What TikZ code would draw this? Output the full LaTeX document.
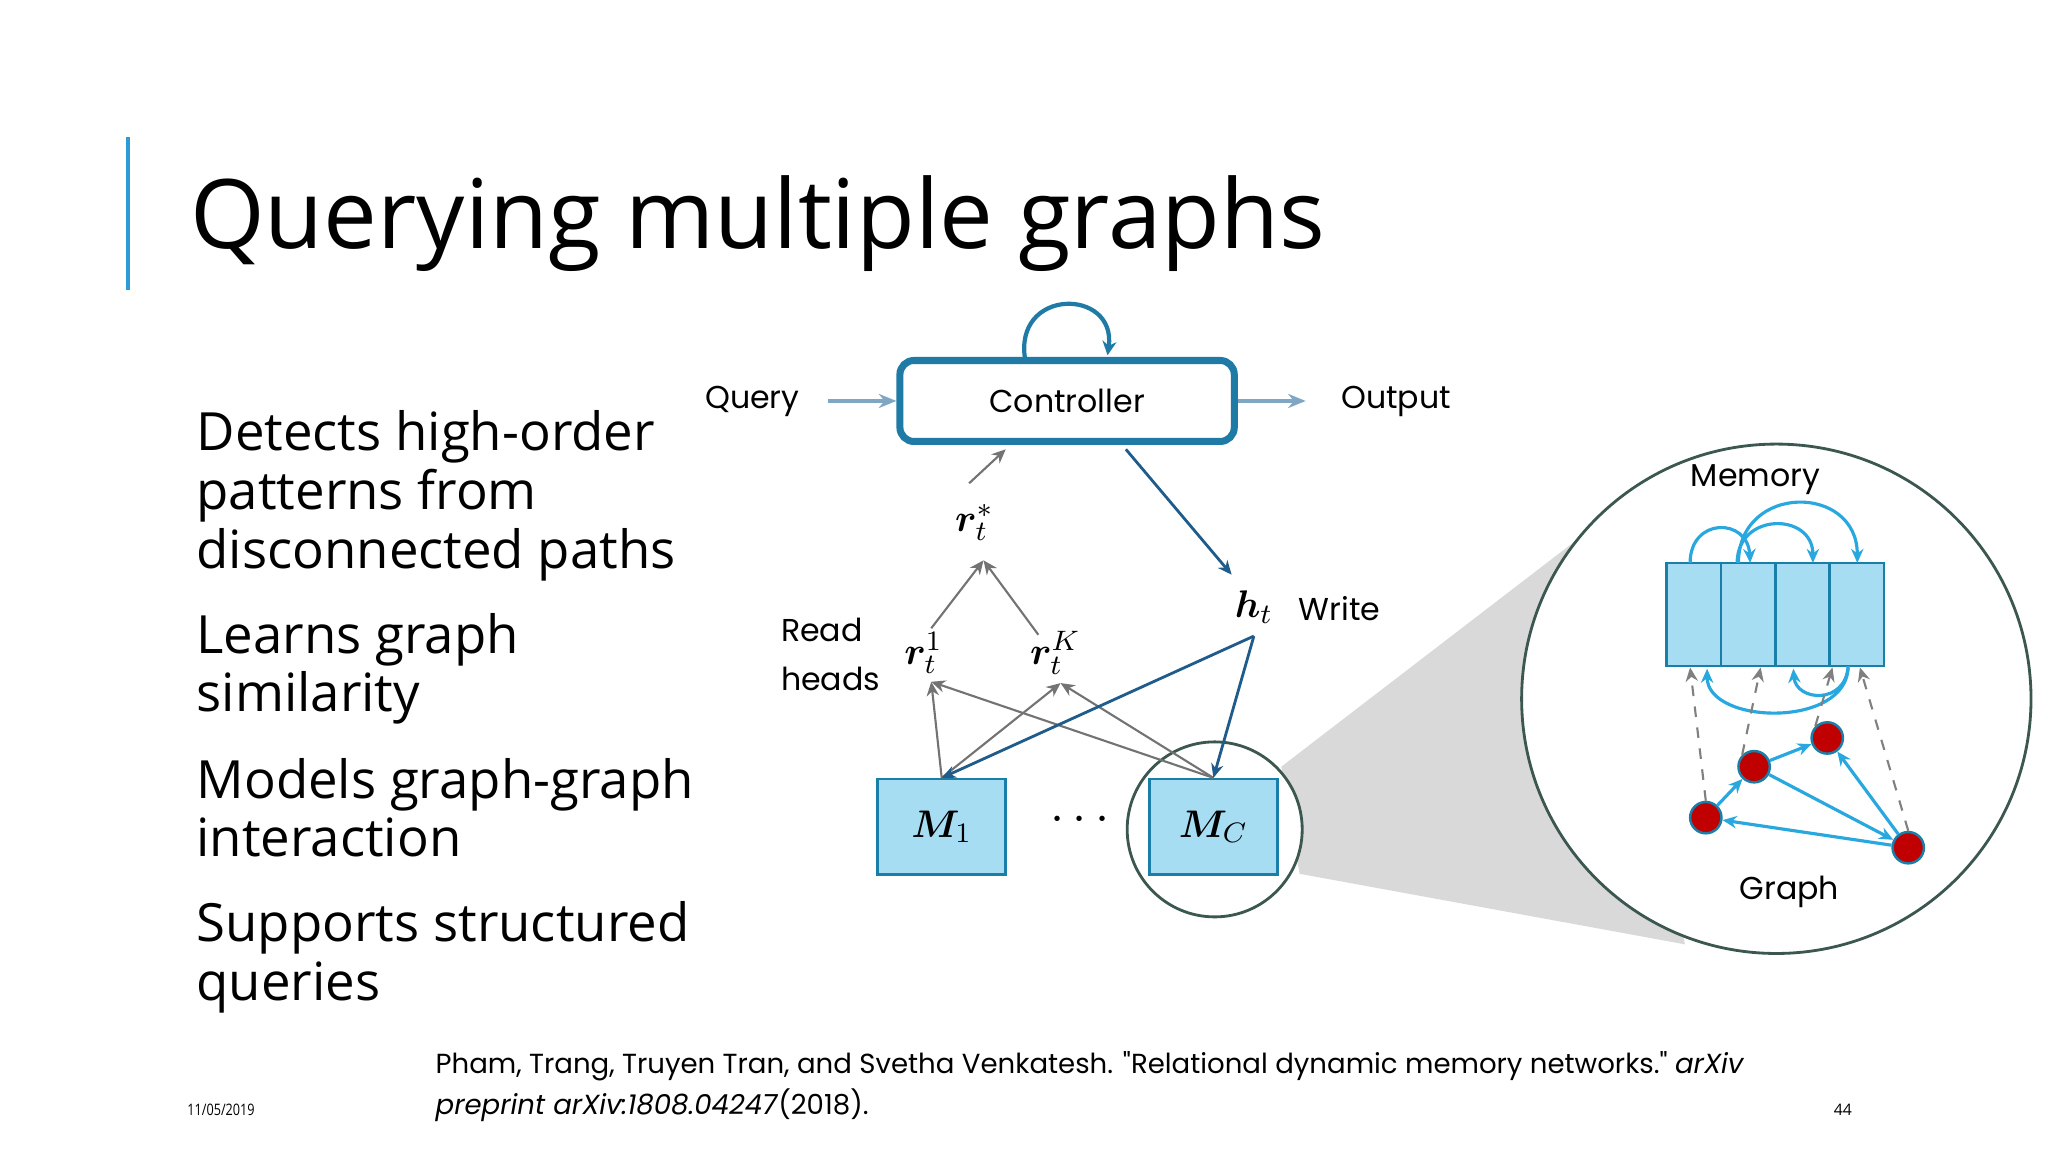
\documentclass[tikz,border=0pt]{standalone}
\usepackage{fontspec}
\setmainfont{Open Sans}
\newfontfamily\diag{Poppins}
\usepackage{amsmath,bm}
\usetikzlibrary{arrows.meta}
\definecolor{titlebar}{HTML}{2E9BD6}
\definecolor{ctrl}{HTML}{1F7BA6}
\definecolor{cellfill}{HTML}{A6DDF3}
\definecolor{cellline}{HTML}{1A7FA8}
\definecolor{arrlight}{HTML}{7FA7C4}
\definecolor{darkblue}{HTML}{1F5C8C}
\definecolor{skyb}{HTML}{29A8E0}
\definecolor{nodered}{HTML}{C00000}
\definecolor{circline}{HTML}{3B5750}
\tikzset{
 lbl/.style={font=\diag\fontsize{9}{11}\selectfont},
 math/.style={font=\fontsize{11}{13}\selectfont},
 bul/.style={anchor=base west,inner sep=0pt,align=left,font=\fontsize{15}{16.7}\selectfont},
 greyarr/.style={draw=gray!90!black,line width=0.6pt,-{Stealth[length=4pt,width=3.5pt]}},
 bluearr/.style={draw=darkblue,line width=0.8pt,-{Stealth[length=4pt,width=3.5pt]}},
 skyarr/.style={draw=skyb,line width=0.9pt,-{Stealth[length=4pt,width=3.5pt]}},
 dasharr/.style={draw=gray,dashed,line width=0.6pt,-{Stealth[length=4pt,width=3.5pt]}},
 mbox/.style={draw=cellline,fill=cellfill,line width=0.7pt,minimum width=98*0.01306cm,minimum height=73*0.01306cm,inner sep=0pt},
 cell/.style={draw=cellline,fill=cellfill,line width=0.7pt,minimum width=41.6*0.01306cm,minimum height=79*0.01306cm,inner sep=0pt},
 gnode/.style={circle,draw=cellline,fill=nodered,line width=0.7pt,minimum size=24*0.01306cm,inner sep=0pt},
}
\begin{document}
\begin{tikzpicture}[x=0.01306cm,y=-0.01306cm]
\useasboundingbox[fill=white] (0,0) rectangle (1568,882);
% title
\fill[titlebar] (96.5,105) rectangle (99.5,222);
\node[anchor=base west,inner sep=0pt,font=\fontsize{27.3}{30}\selectfont] (title) at (145,190) {Querying multiple graphs};
% bullets (anchored at last line baseline)
\node[bul] (b1) at (150,435) {Detects high-order\\patterns from\\disconnected paths};
\node[bul] (b2) at (150,545) {Learns graph\\similarity};
\node[bul] (b3) at (150,656) {Models graph-graph\\interaction};
\node[bul] (b4) at (150,766) {Supports structured\\queries};
% footer
\node[anchor=base west,inner sep=0pt,align=left,font=\diag\fontsize{7.85}{11.7}\selectfont] (cite) at (333,853) {Pham, Trang, Truyen Tran, and Svetha Venkatesh. "Relational dynamic memory networks." \textit{arXiv}\\\textit{preprint arXiv:1808.04247}(2018).};
\node[anchor=base west,inner sep=0pt,font=\fontsize{4.5}{5}\selectfont\addfontfeatures{FakeStretch=0.8}] (date) at (143,854) {11/05/2019};
\node[anchor=base,inner sep=0pt,font=\fontsize{4.5}{5}\selectfont] (pg) at (1411,854) {44};
% grey cone and circles
\fill[gray!30] (981,587) -- (1222,402) -- (1290,723) -- (995,669) -- cycle;
\draw[circline,line width=0.8pt,fill=white] (1360,535) circle (195);
\draw[circline,line width=0.8pt,fill=white] (930,635) circle (67);
% controller
\node[draw=ctrl,line width=2pt,rounded corners=4pt,minimum width=256*0.01306cm,minimum height=62*0.01306cm,lbl] (ctrl) at (817,307) {Controller};
\node[lbl] (query) at (576,307) {Query};
\node[lbl] (output) at (1069,307) {Output};
\draw[arrlight,line width=1pt,-{Stealth[length=5pt,width=4pt]}] (query.east)++(12,0) -- (ctrl.west);
\draw[arrlight,line width=1pt,-{Stealth[length=5pt,width=4pt]}] (ctrl.east) -- ++(52,0);
\draw[ctrl,line width=1.2pt,-{Stealth[length=4pt,width=4pt]}] (785,276) .. controls (775,220) and (855,220) .. (848,272);
% reads
\node[math] (rs) at (746,400) {$\bm{r}_t^{*}$};
\node[math] (r1) at (707,500) {$\bm{r}_t^{1}$};
\node[math] (rK) at (808,500) {$\bm{r}_t^{K}$};
\node[math] (ht) at (960,465) {$\bm{h}_t$};
\node[lbl,anchor=west] (write) at (985,466) {Write};
\node[lbl,align=left] (read) at (636,501) {Read\\[3pt]heads};
\node[mbox,math] (m1) at (721,633) {$\bm{M}_1$};
\node[mbox,math] (mc) at (929,633) {$\bm{M}_C$};
\node[font=\fontsize{14}{14}\selectfont] (dots) at (830,628) {$\cdots$};
\coordinate (rsin) at (753,429);
\draw[greyarr] (742,370) -- (770,344);
\draw[greyarr] (713,481) -- (rsin);
\draw[greyarr] (795,486) -- (rsin);
\draw[greyarr] (m1.north) -- (713,522);
\draw[greyarr] (m1.north) -- (812,523);
\draw[greyarr] (mc.north) -- (713,522);
\draw[greyarr] (mc.north) -- (812,523);
\draw[bluearr] (862,344) -- (943,440);
\draw[bluearr] (960,487) -- (m1.north);
\draw[bluearr] (960,487) -- (mc.north);
% memory
\node[lbl] (mem) at (1344,367) {Memory};
\node[cell] (c1) at (1296.8,470.5) {};
\node[cell] (c2) at (1338.4,470.5) {};
\node[cell] (c3) at (1380.0,470.5) {};
\node[cell] (c4) at (1421.6,470.5) {};
\draw[skyarr] (1294,431) .. controls (1294,396) and (1338,396) .. (1340,431);
\draw[skyarr] (1330,431) .. controls (1330,392) and (1388,392) .. (1388,431);
\draw[skyarr] (1331,431) .. controls (1331,370) and (1422,370) .. (1422,431);
\draw[skyarr] (1415,510) .. controls (1415,558) and (1307,555) .. (1307,512);
\draw[skyarr] (1415,510) .. controls (1413,540) and (1375,537) .. (1373,512);
% graph
\node[gnode] (ga) at (1306,626) {};
\node[gnode] (gb) at (1343,587) {};
\node[gnode] (gc) at (1399,565) {};
\node[gnode] (gd) at (1461,649) {};
\draw[dasharr] (ga.north) -- (1294,511);
\draw[dasharr] (gb.north west) -- (1348,511);
\draw[dasharr] (gc.north west) -- (1403,511);
\draw[dasharr] (gd.north) -- (1424,511);
\draw[skyarr] (ga) -- (gb);
\draw[skyarr] (gb) -- (gc);
\draw[skyarr] (gb) -- (gd);
\draw[skyarr] (gd) -- (ga);
\draw[skyarr] (gd) -- (gc);
\node[lbl] (glbl) at (1370,683) {Graph};
\end{tikzpicture}
\end{document}
